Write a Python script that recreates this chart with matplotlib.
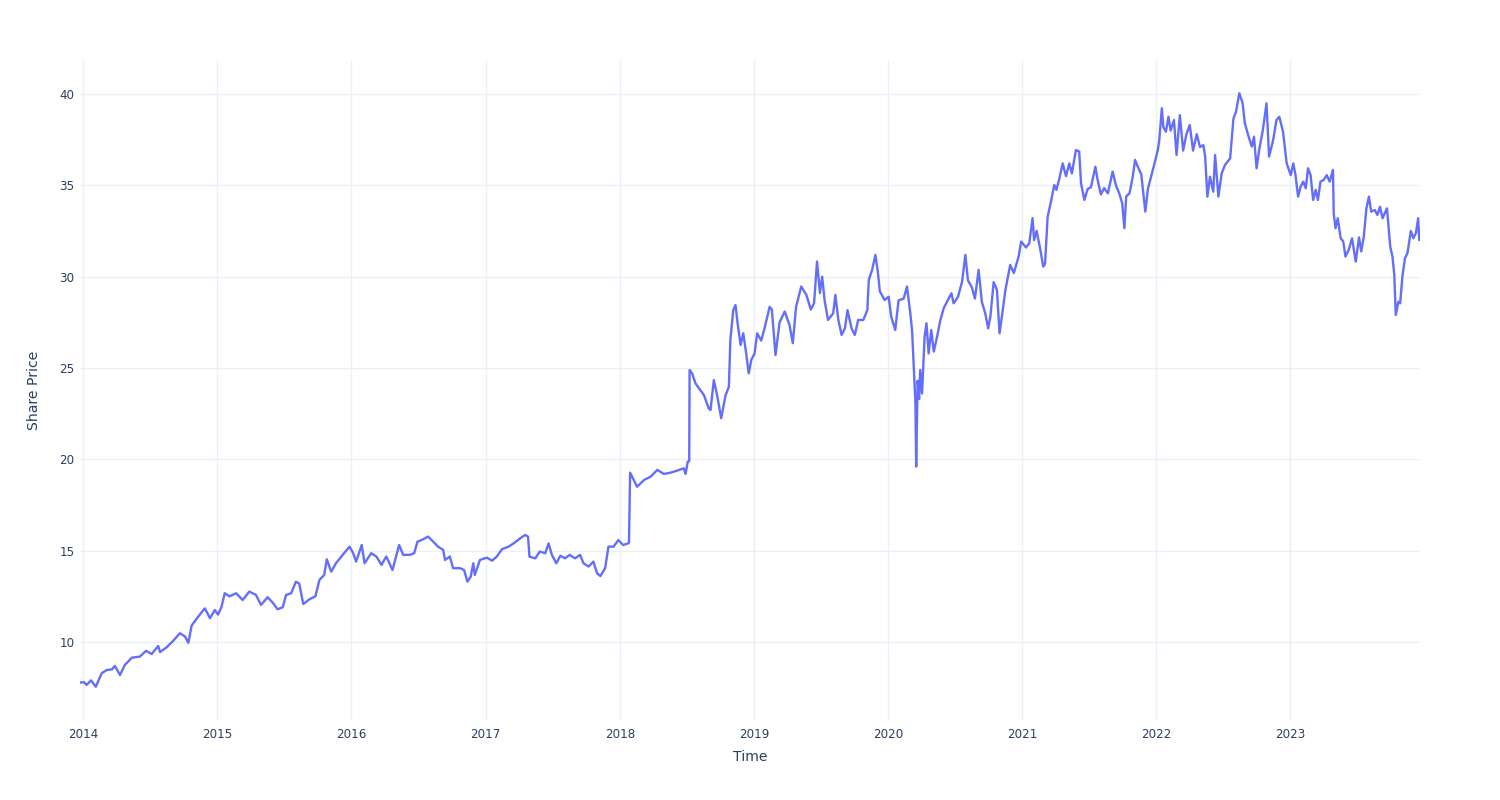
import matplotlib
matplotlib.use("Agg")
import matplotlib.pyplot as plt
import matplotlib.dates as mdates
import pandas as pd

dates = [
 '2013-12-23','2014-01-03','2014-01-10','2014-01-22','2014-02-04','2014-02-20','2014-03-06','2014-03-20','2014-03-28',
 '2014-04-11','2014-04-24','2014-05-13','2014-06-04','2014-06-21','2014-07-06','2014-07-24','2014-07-29','2014-08-16',
 '2014-09-03','2014-09-21','2014-10-05','2014-10-14','2014-10-23','2014-11-10','2014-11-28','2014-12-12','2014-12-25',
 '2015-01-03','2015-01-12','2015-01-21','2015-02-03','2015-02-21','2015-03-11','2015-03-29','2015-04-16','2015-04-30',
 '2015-05-18','2015-06-01','2015-06-14','2015-06-28','2015-07-07','2015-07-21','2015-08-03','2015-08-12','2015-08-23',
 '2015-09-09','2015-09-25','2015-10-06','2015-10-19','2015-10-26','2015-11-07','2015-11-20','2015-12-08','2015-12-27',
 '2016-01-05','2016-01-14','2016-01-29','2016-02-06','2016-02-24','2016-03-09','2016-03-23','2016-04-05','2016-04-22',
 '2016-05-10','2016-05-21','2016-06-08','2016-06-20','2016-06-29','2016-07-14','2016-07-28','2016-08-11','2016-08-24',
 '2016-09-07','2016-09-12','2016-09-25','2016-10-04','2016-10-23','2016-11-03','2016-11-12','2016-11-21','2016-11-28',
 '2016-12-02','2016-12-16','2017-01-04','2017-01-18','2017-01-31','2017-02-14','2017-03-04','2017-03-18','2017-04-05',
 '2017-04-18','2017-04-26','2017-04-30','2017-05-16','2017-05-28','2017-06-12','2017-06-21','2017-06-30','2017-07-12',
 '2017-07-23','2017-08-05','2017-08-17','2017-09-01','2017-09-15','2017-09-24','2017-10-08','2017-10-21','2017-10-31',
 '2017-11-09','2017-11-22','2017-12-01','2017-12-15','2017-12-28','2018-01-10','2018-01-24','2018-01-26','2018-01-29',
 '2018-02-08','2018-02-17','2018-03-08','2018-03-26','2018-04-13','2018-05-01','2018-05-19','2018-06-06','2018-06-24',
 '2018-06-29','2018-07-05','2018-07-09','2018-07-10','2018-07-17','2018-07-26','2018-08-04','2018-08-18','2018-08-31',
 '2018-09-05','2018-09-14','2018-09-23','2018-10-04','2018-10-16','2018-10-25','2018-10-29','2018-11-06','2018-11-12',
 '2018-11-18','2018-11-26','2018-12-03','2018-12-09','2018-12-18','2018-12-25','2019-01-03','2019-01-10','2019-01-21',
 '2019-01-30','2019-02-13','2019-02-19','2019-03-01','2019-03-12','2019-03-26','2019-04-08','2019-04-17','2019-04-26',
 '2019-05-10','2019-05-24','2019-06-05','2019-06-14','2019-06-22','2019-06-30','2019-07-06','2019-07-13','2019-07-22',
 '2019-08-05','2019-08-11','2019-08-19','2019-08-28','2019-09-06','2019-09-13','2019-09-24','2019-10-03','2019-10-12',
 '2019-10-26','2019-11-06','2019-11-10','2019-11-19','2019-11-28','2019-12-05','2019-12-10','2019-12-23','2020-01-03',
 '2020-01-10','2020-01-21','2020-01-30','2020-02-13','2020-02-22','2020-03-02','2020-03-07','2020-03-13','2020-03-16',
 '2020-03-18','2020-03-22','2020-03-26','2020-03-29','2020-04-03','2020-04-10','2020-04-15','2020-04-21','2020-04-28',
 '2020-05-05','2020-05-14','2020-05-23','2020-06-01','2020-06-10','2020-06-22','2020-06-28','2020-07-10','2020-07-21',
 '2020-07-30','2020-08-06','2020-08-17','2020-08-25','2020-09-04','2020-09-13','2020-09-22','2020-09-30','2020-10-06',
 '2020-10-15','2020-10-24','2020-10-31','2020-11-07','2020-11-16','2020-11-29','2020-12-09','2020-12-22','2020-12-29',
 '2021-01-11','2021-01-20','2021-01-29','2021-02-02','2021-02-09','2021-02-18','2021-02-27','2021-03-04','2021-03-11',
 '2021-03-20','2021-03-29','2021-04-04','2021-04-12','2021-04-21','2021-04-30','2021-05-09','2021-05-16','2021-05-27',
 '2021-06-05','2021-06-10','2021-06-19','2021-06-28','2021-07-07','2021-07-19','2021-07-25','2021-08-03','2021-08-12',
 '2021-08-22','2021-09-04','2021-09-13','2021-09-22','2021-09-30','2021-10-06','2021-10-11','2021-10-20','2021-10-29',
 '2021-11-04','2021-11-12','2021-11-21','2021-12-02','2021-12-09','2021-12-18','2021-12-27','2022-01-05','2022-01-09',
 '2022-01-16','2022-01-20','2022-01-27','2022-02-03','2022-02-09','2022-02-18','2022-02-25','2022-03-06','2022-03-15',
 '2022-03-24','2022-04-02','2022-04-11','2022-04-21','2022-04-30','2022-05-09','2022-05-14','2022-05-20','2022-05-27',
 '2022-06-05','2022-06-10','2022-06-19','2022-06-28','2022-07-07','2022-07-21','2022-07-30','2022-08-06','2022-08-15',
 '2022-08-24','2022-08-30','2022-09-08','2022-09-18','2022-09-24','2022-10-01','2022-10-08','2022-10-18','2022-10-28',
 '2022-11-04','2022-11-15','2022-11-24','2022-12-02','2022-12-12','2022-12-22','2023-01-02','2023-01-09','2023-01-15',
 '2023-01-22','2023-01-29','2023-02-05','2023-02-12','2023-02-18','2023-02-25','2023-03-04','2023-03-11','2023-03-17',
 '2023-03-24','2023-04-02','2023-04-10','2023-04-18','2023-04-27','2023-04-29','2023-05-04','2023-05-10','2023-05-18',
 '2023-05-25','2023-05-31','2023-06-09','2023-06-18','2023-06-28','2023-07-07','2023-07-13','2023-07-20','2023-07-27',
 '2023-08-03','2023-08-09','2023-08-19','2023-08-26','2023-09-02','2023-09-09','2023-09-21','2023-09-30','2023-10-06',
 '2023-10-11','2023-10-15','2023-10-22','2023-10-27','2023-11-02','2023-11-09','2023-11-16','2023-11-25','2023-12-02',
 '2023-12-09','2023-12-15','2023-12-18','2023-12-20',
]

prices = [
 7.78, 7.80, 7.65, 7.90, 7.55, 8.29, 8.47, 8.50, 8.69,
 8.19, 8.74, 9.14, 9.20, 9.52, 9.34, 9.78, 9.45, 9.71,
 10.07, 10.48, 10.30, 9.95, 10.90, 11.39, 11.84, 11.30, 11.75,
 11.50, 11.90, 12.67, 12.50, 12.67, 12.30, 12.76, 12.58, 12.03,
 12.45, 12.15, 11.79, 11.90, 12.57, 12.67, 13.30, 13.20, 12.08,
 12.34, 12.50, 13.40, 13.67, 14.53, 13.85, 14.31, 14.76, 15.22,
 14.90, 14.40, 15.31, 14.31, 14.86, 14.68, 14.22, 14.68, 13.94,
 15.31, 14.77, 14.77, 14.86, 15.49, 15.62, 15.77, 15.49, 15.22,
 15.04, 14.49, 14.68, 14.04, 14.04, 13.94, 13.30, 13.58, 14.31,
 13.67, 14.49, 14.62, 14.45, 14.68, 15.08, 15.22, 15.40, 15.68,
 15.86, 15.77, 14.67, 14.58, 14.95, 14.86, 15.40, 14.77, 14.31,
 14.72, 14.58, 14.77, 14.58, 14.77, 14.31, 14.13, 14.40, 13.76,
 13.61, 14.04, 15.22, 15.22, 15.58, 15.31, 15.40, 15.45, 19.27,
 18.87, 18.50, 18.87, 19.05, 19.42, 19.20, 19.27, 19.38, 19.51,
 19.20, 19.87, 19.90, 24.89, 24.70, 24.16, 23.90, 23.52, 22.79,
 22.70, 24.34, 23.50, 22.25, 23.50, 23.98, 26.54, 28.18, 28.45,
 27.40, 26.26, 26.90, 26.10, 24.71, 25.44, 25.80, 26.90, 26.50,
 27.17, 28.35, 28.20, 25.71, 27.50, 28.09, 27.36, 26.36, 28.35,
 29.46, 29.00, 28.20, 28.55, 30.83, 29.10, 30.00, 28.65, 27.63,
 27.99, 29.00, 27.63, 26.81, 27.17, 28.17, 27.17, 26.81, 27.63,
 27.63, 28.17, 29.82, 30.37, 31.19, 30.20, 29.20, 28.72, 28.90,
 27.81, 27.08, 28.70, 28.80, 29.46, 28.00, 27.00, 24.34, 23.07,
 19.60, 24.30, 23.30, 24.89, 23.60, 26.72, 27.45, 25.80, 27.08,
 25.90, 26.72, 27.63, 28.27, 28.63, 29.09, 28.54, 28.90, 29.73,
 31.19, 29.80, 29.40, 28.80, 30.37, 28.60, 28.00, 27.17, 27.80,
 29.70, 29.27, 26.90, 27.90, 29.27, 30.64, 30.20, 31.10, 31.92,
 31.60, 31.83, 33.20, 32.00, 32.50, 31.60, 30.55, 30.70, 33.28,
 34.10, 35.02, 34.75, 35.38, 36.20, 35.50, 36.20, 35.65, 36.93,
 36.85, 35.10, 34.20, 34.80, 34.90, 36.02, 35.30, 34.50, 34.85,
 34.56, 35.75, 35.00, 34.56, 34.02, 32.65, 34.40, 34.56, 35.50,
 36.39, 36.00, 35.60, 33.56, 34.80, 35.50, 36.20, 36.93, 37.47,
 39.22, 38.20, 37.93, 38.75, 38.00, 38.57, 36.66, 38.84, 36.90,
 37.80, 38.30, 36.90, 37.80, 37.10, 37.20, 36.57, 34.38, 35.47,
 34.65, 36.66, 34.38, 35.66, 36.11, 36.48, 38.66, 39.03, 40.04,
 39.50, 38.40, 37.75, 37.12, 37.66, 35.93, 36.93, 38.02, 39.49,
 36.57, 37.47, 38.57, 38.75, 37.93, 36.20, 35.56, 36.20, 35.56,
 34.38, 34.93, 35.20, 34.84, 35.93, 35.56, 34.20, 34.75, 34.20,
 35.20, 35.30, 35.56, 35.20, 35.84, 33.47, 32.65, 33.20, 32.10,
 31.93, 31.10, 31.47, 32.10, 30.82, 32.15, 31.38, 32.20, 33.74,
 34.38, 33.56, 33.65, 33.38, 33.83, 33.20, 33.74, 31.64, 31.10,
 30.09, 27.90, 28.63, 28.54, 30.00, 31.00, 31.30, 32.50, 32.10,
 32.40, 33.20, 32.00, 32.10,
]

x_title = "Time"
y_title = "Share Price"

x = pd.to_datetime(dates)

plt.rcParams['font.family'] = ['DejaVu Sans']
fig = plt.figure(figsize=(15, 8), dpi=100)
ax = fig.add_axes([80/1500, 80/800, 1340/1500, 660/800])

ax.plot(x, prices, color='#636EFA', linewidth=1.7, solid_joinstyle='round')

ax.set_xlim(x.min(), x.max())
ax.set_ylim(5.73, 41.86)
ax.set_yticks([10, 15, 20, 25, 30, 35, 40])
ax.xaxis.set_major_locator(mdates.YearLocator())
ax.xaxis.set_major_formatter(mdates.DateFormatter('%Y'))

ax.grid(True, color='#EBF0F8', linewidth=1)
ax.set_axisbelow(True)
for s in ax.spines.values():
    s.set_visible(False)
ax.tick_params(length=0, colors='#2a3f5f', labelsize=8.6)
ax.tick_params(axis='x', pad=6)
ax.tick_params(axis='y', pad=4)

ax.set_xlabel(x_title, fontsize=10.1, color='#2a3f5f', labelpad=6)
ax.set_ylabel(y_title, fontsize=10.1, color='#2a3f5f', labelpad=13)

fig.savefig('out.png', dpi=100, facecolor='white')
